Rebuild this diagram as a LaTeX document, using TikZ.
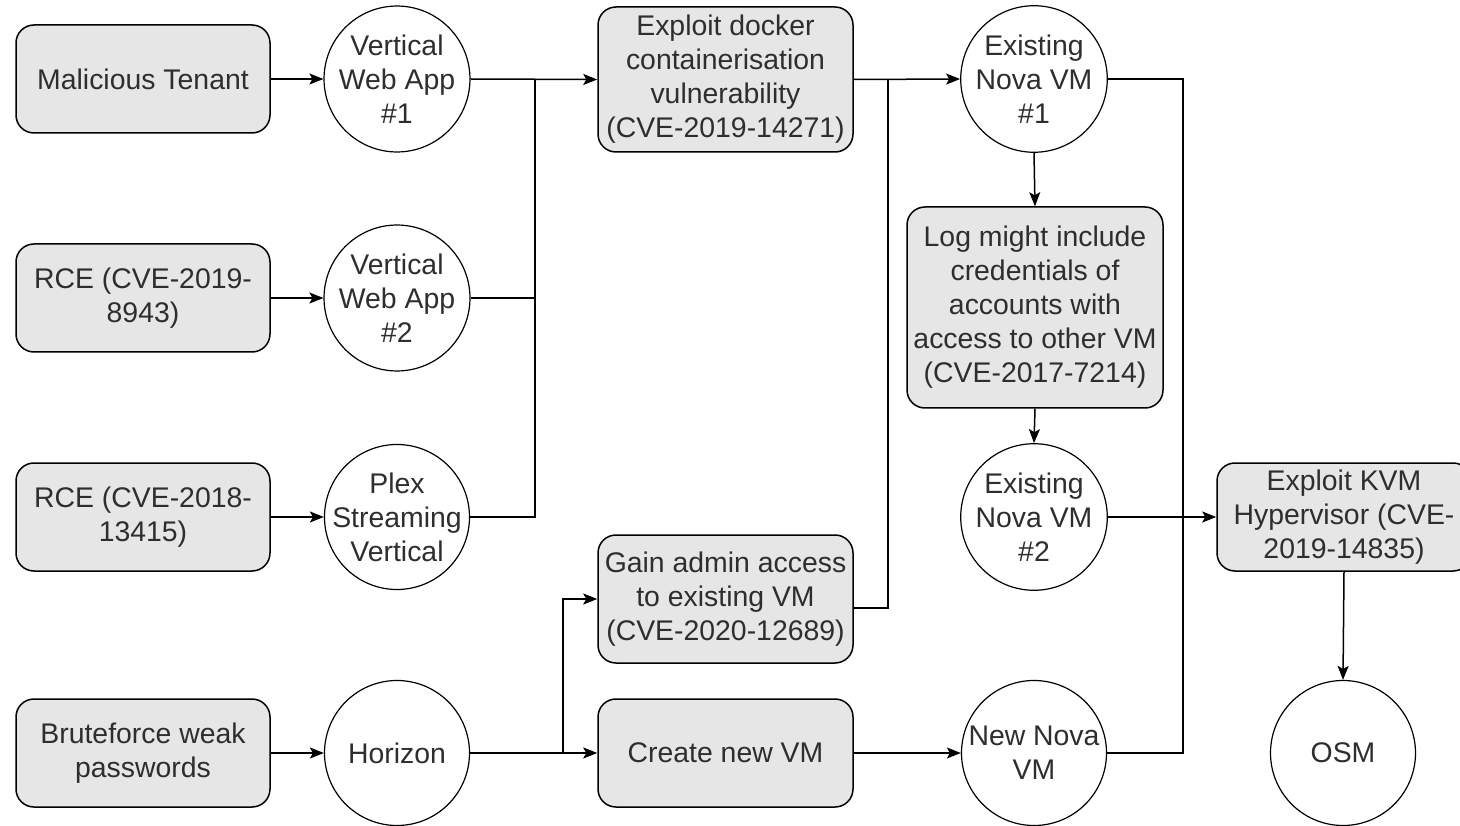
\documentclass[tikz,border=0pt]{standalone}
\usepackage{fontspec}
\setmainfont{Liberation Sans}
\usetikzlibrary{arrows.meta,calc}
\definecolor{boxfill}{HTML}{E6E6E6}
\definecolor{txt}{HTML}{2E2E2E}
\tikzset{
  every node/.style={font=\fontsize{28.4}{34}\selectfont, text=txt, align=center, inner sep=0pt},
  boxnode/.style={draw=black, line width=1.5pt, fill=boxfill, rounded corners=18pt, minimum width=254pt, minimum height=108pt},
  circnode/.style={draw=black, line width=1.2pt, fill=white, circle, minimum size=145pt},
  conn/.style={line width=1.5pt, draw=black},
  arr/.style={conn, -{Stealth[length=14pt,width=11pt,inset=3pt]}}
}
\begin{document}
\begin{tikzpicture}[x=1pt,y=-1pt]
\useasboundingbox (0,0) rectangle (1460,826);
\fill[white] (0,0) rectangle (1460,826);
\clip (0,0) rectangle (1460,826);
% left column
\node[boxnode] (mt) at (143,79) {Malicious Tenant};
\node[boxnode] (rce1) at (143,298) {RCE (CVE-2019-\\8943)};
\node[boxnode] (rce2) at (143,517) {RCE (CVE-2018-\\13415)};
\node[boxnode] (bf) at (143,753) {Bruteforce weak\\passwords};
% circles
\node[circnode] (c1) at (397,79) {Vertical\\Web App\\\#1};
\node[circnode] (c2) at (397,298) {Vertical\\Web App\\\#2};
\node[circnode, inner sep=-14pt] (c3) at (397,517) {Plex\\Streaming\\Vertical};
\node[circnode] (hz) at (397,753) {Horizon};
% middle
\node[boxnode, minimum width=255pt, minimum height=145pt] (dock) at (725.5,79.5) {Exploit docker\\containerisation\\vulnerability\\(CVE-2019-14271)};
\node[boxnode, minimum width=255pt, minimum height=128pt] (gain) at (725.5,599) {Gain admin access\\to existing VM\\(CVE-2020-12689)};
\node[boxnode, minimum width=255pt] (cnew) at (725.5,753) {Create new VM};
% right
\node[circnode] (nova1) at (1034,79) {Existing\\Nova VM\\\#1};
\node[boxnode, minimum width=256pt, minimum height=201pt] (log) at (1035,307.5) {Log might include\\credentials of\\accounts with\\access to other VM\\(CVE-2017-7214)};
\node[circnode] (nova2) at (1034,517) {Existing\\Nova VM\\\#2};
\node[circnode, inner sep=-6pt] (newnova) at (1034,753) {New Nova\\VM};
\node[boxnode] (kvm) at (1344,517) {Exploit KVM\\Hypervisor (CVE-\\2019-14835)};
\node[circnode] (osm) at (1343,753) {OSM};
% coordinates
\coordinate (bus1) at (535,79);
\coordinate (bus2) at (888,79);
\coordinate (hb) at (563,753);
\coordinate (rbus) at (1183,79);
% connectors
\draw[arr] (mt) -- (c1);
\draw[arr] (rce1) -- (c2);
\draw[arr] (rce2) -- (c3);
\draw[arr] (bf) -- (hz);
\draw[arr] (c1.east) -- (dock.west);
\draw[conn] (c2.east) -| (bus1);
\draw[conn] (c3.east) -| (bus1);
\draw[arr] (dock.east) -- (nova1.west);
\draw[conn] ([yshift=-9pt]gain.east) -| (bus2);
\draw[arr] (hz.east) -- (cnew.west);
\draw[arr] (hb) |- (gain.west);
\draw[arr] (cnew.east) -- (newnova.west);
\draw[conn] (nova1.east) -- (rbus) |- (newnova.east);
\draw[arr] (nova1.south) -- (log.north);
\draw[arr] (log.south) -- (nova2.north);
\draw[arr] (nova2.east) -- (kvm.west);
\draw[arr] (kvm.south) -- (osm.north);
\end{tikzpicture}
\end{document}
